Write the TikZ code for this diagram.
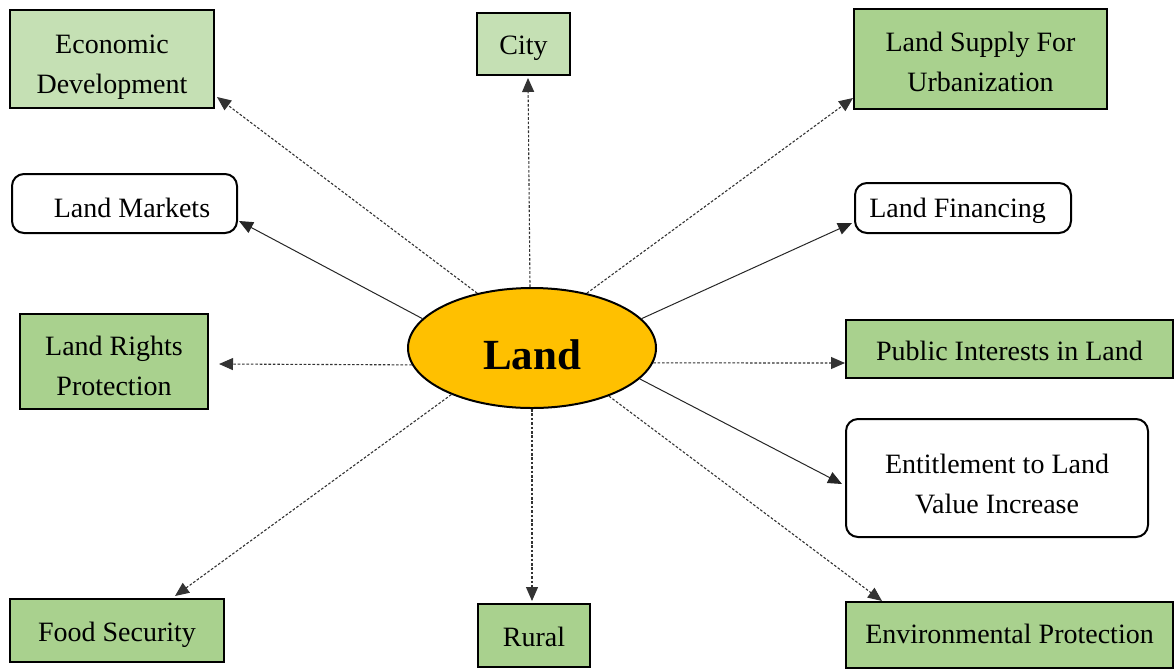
\documentclass[tikz,border=0pt]{standalone}
\usepackage{fontspec}
\setmainfont{Liberation Serif}
\usetikzlibrary{arrows.meta,shapes.geometric}
\definecolor{lightgr}{HTML}{C5E0B4}
\definecolor{midgr}{HTML}{A9D18E}
\definecolor{landorange}{HTML}{FFC000}
\tikzset{
  box/.style={draw=black,line width=1pt,inner sep=0pt},
  sqbox/.style={box},
  rbox/.style={box,rounded corners=6pt,fill=white},
  tl/.style={font=\fontsize{14}{20}\selectfont,align=center,inner sep=0pt,yshift=#1-1.5pt},
  tl/.default=0pt,
  solidarr/.style={line width=0.5pt,draw=black!85,-{Triangle[length=7pt,width=6pt]}},
  dotarr/.style={line width=0.55pt,draw=black!80,dash pattern=on 1.3pt off 0.9pt,-{Triangle[length=7pt,width=6pt]}},
}
\begin{document}
\begin{tikzpicture}[x=0.5pt,y=-0.5pt]
\useasboundingbox (0,0) rectangle (1176,670);
\node[ellipse,draw=black,line width=1pt,fill=landorange,minimum width=124pt,minimum height=60pt,inner sep=0pt,
  label={[font=\fontsize{21.5}{24}\selectfont\bfseries,inner sep=0pt,yshift=-3.5pt]center:Land}] (land) at (532,348) {};

\node[sqbox,fill=lightgr,minimum width=102pt,minimum height=49pt,
  label={[tl=-1.7pt]center:{Economic\strut\\Development\strut}}] (econ) at (112,59) {};
\node[sqbox,fill=lightgr,minimum width=46.5pt,minimum height=31pt,
  label={[tl=0.3pt]center:{City\strut}}] (city) at (523.5,44) {};
\node[sqbox,fill=midgr,minimum width=126.5pt,minimum height=50pt,
  label={[tl=-0.7pt]center:{Land Supply For\strut\\Urbanization\strut}}] (supply) at (980.5,59) {};
\node[rbox,minimum width=112.5pt,minimum height=29.5pt,
  label={[tl=-1.45pt,xshift=3.75pt]center:{Land Markets\strut}}] (markets) at (124.5,203.5) {};
\node[rbox,minimum width=108pt,minimum height=25pt,
  label={[tl=0.8pt,xshift=-2.75pt]center:{Land Financing\strut}}] (financing) at (963,208) {};
\node[sqbox,fill=midgr,minimum width=94pt,minimum height=47.5pt,
  label={[tl=-1.7pt]center:{Land Rights\strut\\Protection\strut}}] (rights) at (114,361.5) {};
\node[sqbox,fill=midgr,minimum width=163.5pt,minimum height=29pt,
  label={[tl=-0.2pt]center:{Public Interests in Land\strut}}] (public) at (1009.5,349) {};
\node[rbox,minimum width=151pt,minimum height=59pt,
  label={[tl=-2.2pt]center:{Entitlement to Land\strut\\Value Increase\strut}}] (entitle) at (997,478) {};
\node[sqbox,fill=midgr,minimum width=107pt,minimum height=31.5pt,
  label={[tl]center:{Food Security\strut}}] (food) at (117,630.5) {};
\node[sqbox,fill=midgr,minimum width=56pt,minimum height=31.5pt,
  label={[tl]center:{Rural\strut}}] (rural) at (534,635.5) {};
\node[sqbox,fill=midgr,minimum width=163.5pt,minimum height=33pt,
  label={[tl=1.3pt]center:{Environmental Protection\strut}}] (env) at (1009.5,635) {};

\draw[dotarr] (land.135) -- ([shift={(2,-12)}]econ.south east);
\draw[dotarr] ([shift={(-2,0)}]land.north) -- ([shift={(4.5,2)}]city.south);
\draw[dotarr] (land.45) -- ([shift={(0,-12)}]supply.south west);
\draw[solidarr] (land.165) -- ([shift={(1,-13)}]markets.south east);
\draw[solidarr] (land.15) -- ([shift={(-2,-11)}]financing.south west);
\draw[dotarr] (land.188) -- ([shift={(10,2.5)}]rights.east);
\draw[dotarr] (land.353) -- ([shift={(0,14)}]public.west);
\draw[solidarr] (land.344) -- ([shift={(-3,6)}]entitle.west);
\draw[dotarr] (land.210) -- ([shift={(58,-2)}]food.north);
\draw[dotarr] (land.south) -- ([shift={(-2,-2)}]rural.north);
\draw[dotarr] (land.328) -- ([shift={(37,0)}]env.north west);
\end{tikzpicture}
\end{document}
